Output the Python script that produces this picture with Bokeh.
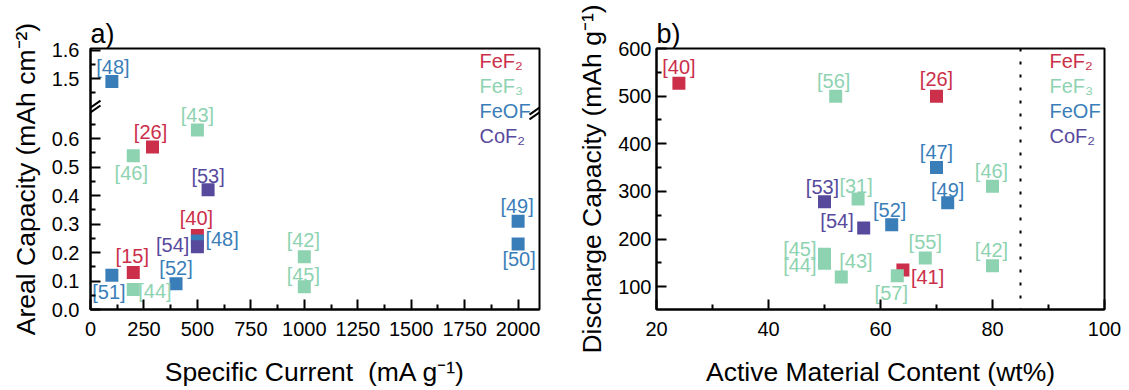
from bokeh.plotting import figure
from bokeh.layouts import row
from bokeh.models import ColumnDataSource, FixedTicker, Label, Span, Range1d
from bokeh.core.properties import value
from bokeh.embed import file_html
from bokeh.resources import INLINE

FONT = "Liberation Sans"

materials = ["FeF2", "FeF3", "FeOF", "CoF2"]
material_names = ["FeF\u2082", "FeF\u2083", "FeOF", "CoF\u2082"]
material_colors = {"FeF2": "#CB2F4A", "FeF3": "#8ED3B1", "FeOF": "#3A7EB9", "CoF2": "#574A9C"}

# ---- a) areal capacity vs specific current ----
a_material = ["FeOF", "FeF3", "FeF2", "FeF3", "CoF2", "FeF2", "FeOF", "CoF2",
              "FeF2", "FeOF", "FeF3", "FeOF", "FeF3", "FeF3", "FeOF", "FeOF"]
a_current = [100, 500, 290, 200, 550, 500, 500, 500,
             200, 100, 200, 400, 1000, 1000, 2000, 2000]
a_capacity = [1.49, 0.63, 0.57, 0.54, 0.42, 0.26, 0.24, 0.22,
              0.13, 0.12, 0.07, 0.09, 0.185, 0.08, 0.31, 0.23]
a_ref = ["[48]", "[43]", "[26]", "[46]", "[53]", "[40]", "[48]", "[54]",
         "[15]", "[51]", "[44]", "[52]", "[42]", "[45]", "[49]", "[50]"]

a_xticks = [0, 250, 500, 750, 1000, 1250, 1500, 1750, 2000]
a_yticks_low = [0.0, 0.1, 0.2, 0.3, 0.4, 0.5, 0.6]
a_yticks_high = [1.5, 1.6]

# ---- b) discharge capacity vs active material content ----
b_material = ["FeF2", "FeF3", "FeF2", "FeOF", "FeF3", "FeOF", "FeF3", "CoF2", "CoF2",
              "FeOF", "FeF3", "FeF3", "FeF2", "FeF3", "FeF3", "FeF3", "FeF3"]
b_content = [24, 52, 70, 70, 80, 72, 56, 50, 57,
             62, 68, 80, 64, 63, 50, 50, 53]
b_capacity = [527, 500, 500, 350, 311, 276, 284, 278, 223,
              230, 160, 144, 135, 123, 168, 149, 120]
b_ref = ["[40]", "[56]", "[26]", "[47]", "[46]", "[49]", "[31]", "[53]", "[54]",
         "[52]", "[55]", "[42]", "[41]", "[57]", "[45]", "[44]", "[43]"]
b_xticks = [20, 40, 60, 80, 100]
b_yticks = [100, 200, 300, 400, 500, 600]
b_limit = 85

# label placement around each square: (align, dx, dy) in pixels
a_label_place = [("center", 1, -15), ("center", 0, -15), ("center", -2, -15), ("center", -2, 17),
                 ("center", 0, -14), ("center", -1, -17), ("left", 8, -2), ("right", -8, -2),
                 ("center", -1, -16), ("center", -3, 17), ("left", 5, 1), ("center", 0, -16),
                 ("center", -1, -17), ("center", -1, -12), ("center", -1, -15), ("center", 1, 15)]
b_label_place = [("center", 0, -16), ("center", -2, -15), ("center", 0, -17), ("center", 0, -16),
                 ("center", -1, -15), ("center", 0, -13), ("center", -2, -13), ("center", -2, -15),
                 ("right", -10, -7), ("center", -2, -15), ("center", 0, -16), ("center", -1, -16),
                 ("left", 8, 7), ("center", -6, 17), ("right", -8, -5), ("right", -8, 2),
                 ("left", -2, -16)]

# broken y axis of panel a: values above the gap are shifted down by this amount
BREAK_SHIFT = 0.69
BREAK_AT = 0.70


def a_map(v):
    return v - BREAK_SHIFT if v > 1.0 else v


def style(p, tag):
    p.background_fill_color = "white"
    p.border_fill_color = "white"
    p.outline_line_color = "black"
    p.outline_line_width = 2
    p.outline_line_alpha = 1
    p.grid.visible = False
    p.title.text = tag
    p.title.text_font = FONT
    p.title.text_font_size = "27px"
    p.title.text_font_style = "normal"
    p.title.text_color = "black"
    p.title.align = "left"
    p.title.offset = 0
    p.title.standoff = 0
    for ax in (p.xaxis[0], p.yaxis[0]):
        ax.axis_line_width = 2
        ax.major_tick_line_width = 2
        ax.minor_tick_line_width = 2
        ax.major_tick_in = 10
        ax.major_tick_out = 0
        ax.minor_tick_in = 5
        ax.minor_tick_out = 0
        ax.major_label_text_font = FONT
        ax.major_label_text_font_size = "20px"
        ax.major_label_text_color = "black"
        ax.axis_label_text_font = FONT
        ax.axis_label_text_font_size = "26.5px"
        ax.axis_label_text_font_style = "normal"
        ax.axis_label_text_color = "black"
    p.xaxis.major_label_standoff = 12
    p.xaxis.axis_label_standoff = 18


def add_points(p, xs, ys, mats, refs, place):
    src = ColumnDataSource(dict(
        x=xs, y=ys,
        color=[material_colors[m] for m in mats],
        ref=refs,
        align=[pl[0] for pl in place],
        dx=[pl[1] for pl in place],
        dy=[pl[2] for pl in place],
    ))
    p.scatter("x", "y", source=src, marker="square", size=13,
              fill_color="color", line_color=None)
    p.text("x", "y", text="ref", source=src, text_color="color",
           text_align="align", text_baseline="middle",
           x_offset="dx", y_offset="dy",
           text_font=value(FONT), text_font_size=value("20px"))


def add_legend(p, x0, y0):
    for i, (m, name) in enumerate(zip(materials, material_names)):
        p.add_layout(Label(x=x0, y=y0 - 25.2 * i, x_units="screen", y_units="screen",
                           text=name, text_color=material_colors[m],
                           text_font=FONT, text_font_size="20px",
                           text_baseline="middle", text_align="left"))


# ---------------- panel a ----------------
pa = figure(width=560, height=390, output_backend="svg", toolbar_location=None,
            x_range=Range1d(0, 2100), y_range=Range1d(0, 0.916),
            min_border_left=90, min_border_right=21, min_border_top=48, min_border_bottom=81)
style(pa, "a)")
pa.xaxis.axis_label = "Specific Current \u00a0(mA g\u207b\u00b9)"
pa.yaxis.axis_label = "Areal Capacity (mAh cm\u207b\u00b2)"
pa.xaxis.ticker = FixedTicker(ticks=a_xticks,
                              minor_ticks=[t + 125 for t in a_xticks[:-1]])
ya_major = [a_map(v) for v in a_yticks_low + a_yticks_high]
ya_minor = [a_map(v + 0.05) for v in a_yticks_low] + [a_map(1.45), a_map(1.55)]
pa.yaxis.ticker = FixedTicker(ticks=ya_major, minor_ticks=ya_minor)
pa.yaxis.major_label_overrides = {a_map(v): f"{v:.1f}" for v in a_yticks_low + a_yticks_high}
pa.yaxis.major_label_standoff = 11
pa.yaxis.axis_label_standoff = 8

add_points(pa, a_current, [a_map(v) for v in a_capacity], a_material, a_ref, a_label_place)

# break marks on both vertical edges
for xe in (0, 2100):
    xs_px = 2100 / 449.0
    for k in (-2.4, 2.4):
        yc = BREAK_AT + k / 285.0
        pa.segment(x0=[xe - 10 * xs_px], y0=[yc - 7 / 285.0],
                   x1=[xe + 10 * xs_px], y1=[yc + 7 / 285.0],
                   line_color="black", line_width=2)
add_legend(pa, 389, 249)

# ---------------- panel b ----------------
pb = figure(width=569, height=390, output_backend="svg", toolbar_location=None,
            x_range=Range1d(20, 100), y_range=Range1d(52, 600),
            min_border_left=96, min_border_right=25, min_border_top=48, min_border_bottom=81)
style(pb, "b)")
pb.xaxis.axis_label = "Active Material Content (wt%)"
pb.yaxis.axis_label = "Discharge Capacity (mAh g\u207b\u00b9)"
pb.xaxis.ticker = FixedTicker(ticks=b_xticks, minor_ticks=[t + 10 for t in b_xticks[:-1]])
pb.yaxis.ticker = FixedTicker(ticks=b_yticks, minor_ticks=[t + 50 for t in b_yticks[:-1]])
pb.yaxis.major_label_standoff = 5
pb.yaxis.axis_label_standoff = 8

pb.add_layout(Span(location=b_limit, dimension="height", line_color="black",
                   line_width=2, line_dash="3 10"))
add_points(pb, b_content, b_capacity, b_material, b_ref, b_label_place)
add_legend(pb, 393, 249)

layout = row(pa, pb)
open("out.html", "w").write(file_html(layout, INLINE))
